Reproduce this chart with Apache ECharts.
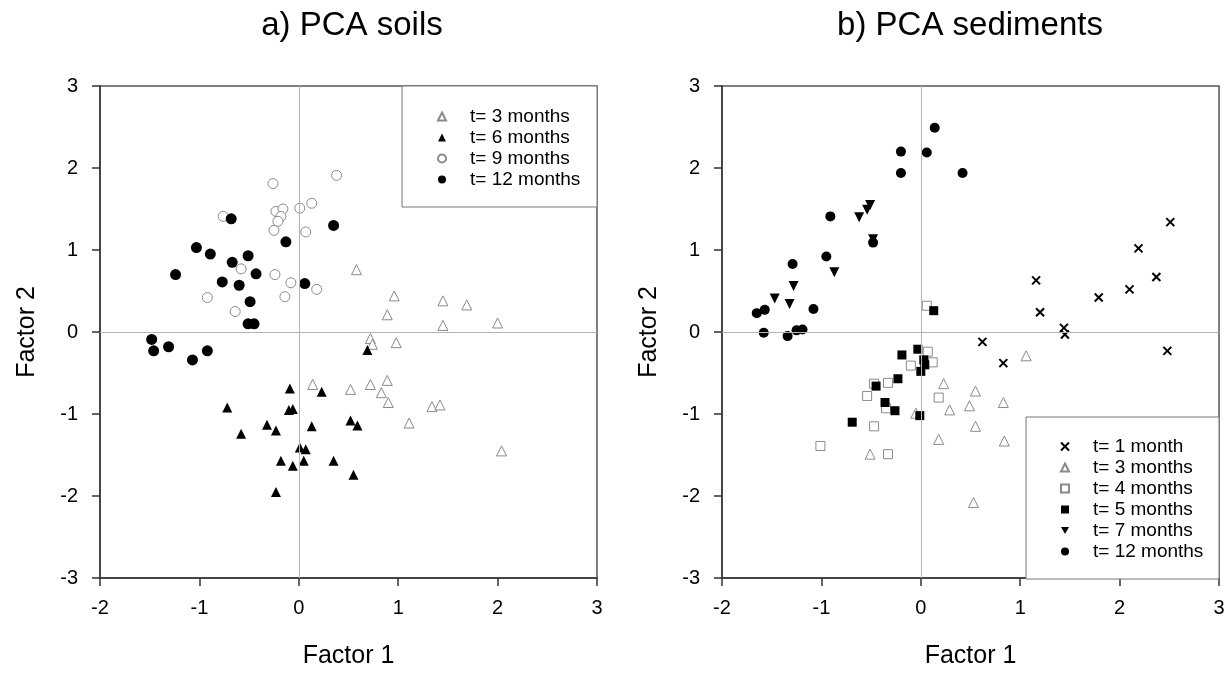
<!DOCTYPE html>
<html>
<head>
<meta charset="utf-8">
<script src="https://cdn.jsdelivr.net/npm/echarts@6/dist/echarts.min.js"></script>
<style>
  html, body { margin: 0; padding: 0; background: #fff; }
  #main { width: 1229px; height: 678px; }
</style>
</head>
<body>
<div id="main"></div>
<script>
// a) PCA soils
const soils3 = [[0.58,0.76],[0.96,0.44],[1.45,0.38],[1.69,0.33],[0.89,0.21],[1.45,0.08],[2.00,0.11],
  [0.72,-0.08],[0.74,-0.15],[0.98,-0.13],[0.89,-0.59],[0.52,-0.70],[0.72,-0.64],[0.83,-0.74],
  [0.90,-0.86],[1.34,-0.91],[1.42,-0.89],[1.11,-1.11],[2.04,-1.45],[0.14,-0.64]];
const soils6 = [[-0.09,-0.69],[0.23,-0.73],[-0.72,-0.92],[-0.10,-0.95],[-0.06,-0.94],[-0.32,-1.13],
  [-0.23,-1.20],[0.13,-1.15],[-0.58,-1.24],[0.01,-1.41],[0.07,-1.43],[-0.18,-1.57],[-0.06,-1.63],
  [0.05,-1.57],[0.35,-1.57],[-0.23,-1.95],[0.69,-0.22],[0.52,-1.08],[0.59,-1.14],[0.55,-1.74]];
const soils9 = [[-0.26,1.81],[0.38,1.91],[-0.23,1.47],[-0.16,1.50],[-0.18,1.41],[-0.21,1.35],
  [0.01,1.51],[0.13,1.57],[-0.76,1.41],[-0.25,1.24],[0.07,1.22],[-0.58,0.77],[-0.24,0.70],
  [-0.08,0.60],[0.18,0.52],[-0.92,0.42],[-0.14,0.43],[-0.64,0.25]];
const soils12 = [[-0.68,1.38],[0.35,1.30],[-0.13,1.10],[-1.03,1.03],[-0.89,0.95],[-0.51,0.93],
  [-0.67,0.85],[-1.24,0.70],[-0.43,0.71],[-0.77,0.61],[-0.60,0.57],[0.06,0.59],[-0.49,0.37],
  [-0.51,0.10],[-0.45,0.10],[-1.48,-0.09],[-1.46,-0.23],[-1.31,-0.18],[-1.07,-0.34],[-0.92,-0.23]];

// b) PCA sediments
const sed1 = [[2.51,1.34],[2.19,1.02],[2.37,0.67],[2.10,0.52],[1.79,0.42],[1.16,0.63],[1.20,0.24],
  [1.44,0.05],[1.45,-0.03],[0.62,-0.12],[0.83,-0.38],[2.48,-0.23]];
const sed3 = [[0.23,-0.63],[0.29,-0.95],[-0.05,-0.99],[0.18,-1.31],[-0.51,-1.49],[0.49,-0.90],
  [1.06,-0.29],[0.55,-0.72],[0.83,-0.86],[0.55,-1.15],[0.84,-1.33],[0.53,-2.08]];
const sed4 = [[0.06,0.32],[0.07,-0.24],[0.12,-0.37],[-0.10,-0.41],[-0.33,-0.62],[-0.47,-0.63],
  [-0.54,-0.78],[0.18,-0.80],[-0.35,-0.93],[-0.47,-1.15],[-1.01,-1.39],[-0.33,-1.49]];
const sed5 = [[0.13,0.26],[-0.03,-0.21],[-0.19,-0.28],[0.03,-0.34],[0.04,-0.40],[0.00,-0.48],
  [-0.23,-0.57],[-0.45,-0.66],[-0.36,-0.86],[-0.26,-0.96],[-0.01,-1.02],[-0.69,-1.10]];
const sed7 = [[-0.51,1.55],[-0.54,1.49],[-0.62,1.40],[-0.48,1.13],[-0.87,0.73],[-1.28,0.56],
  [-1.47,0.41],[-1.32,0.34]];
const sed12 = [[0.14,2.49],[-0.20,2.20],[0.06,2.19],[-0.20,1.94],[0.42,1.94],[-0.91,1.41],
  [-0.48,1.09],[-0.95,0.92],[-1.29,0.83],[-1.08,0.28],[-1.57,0.27],[-1.65,0.23],[-1.58,-0.01],
  [-1.34,-0.05],[-1.25,0.02],[-1.19,0.03]];

const soilNames = ['t= 3 months', 't= 6 months', 't= 9 months', 't= 12 months'];
const sedNames = ['t= 1 month', 't= 3 months', 't= 4 months', 't= 5 months', 't= 7 months', 't= 12 months'];

const FONT = '"Liberation Sans", Arial, sans-serif';
const crossPath = 'path://M0,0L10,10M10,0L0,10';
const downTri = 'path://M0,0L10,0L5,9Z';

const openGrey = { color: '#fff', borderColor: '#8a8a8a', borderWidth: 1, opacity: 1 };
const solid = { color: '#000', opacity: 1 };

const makeAxisX = (idx) => ({
  gridIndex: idx, type: 'value', min: -2, max: 3, interval: 1,
  name: 'Factor 1', nameLocation: 'middle', nameGap: 66,
  nameTextStyle: { fontFamily: FONT, fontSize: 25, color: '#000' },
  axisLine: { onZero: false, lineStyle: { color: '#333', width: 1.5 } },
  axisTick: { length: 8, lineStyle: { color: '#333', width: 1.5 } },
  axisLabel: { fontFamily: FONT, fontSize: 20, color: '#000', margin: 20 },
  splitLine: { show: false }
});
const makeAxisY = (idx) => ({
  gridIndex: idx, type: 'value', min: -3, max: 3, interval: 1,
  name: 'Factor 2', nameLocation: 'middle', nameGap: 60,
  nameTextStyle: { fontFamily: FONT, fontSize: 25, color: '#000' },
  axisLine: { onZero: false, lineStyle: { color: '#333', width: 1.5 } },
  axisTick: { length: 8, lineStyle: { color: '#333', width: 1.5 } },
  axisLabel: { fontFamily: FONT, fontSize: 20, color: '#000', margin: 22 },
  splitLine: { show: false }
});

const zeroLines = (idx) => ({
  type: 'scatter', name: 'zero' + idx, xAxisIndex: idx, yAxisIndex: idx, data: [], z: 1,
  markLine: {
    silent: true, symbol: 'none', label: { show: false },
    lineStyle: { color: '#b4b4b4', width: 1, type: 'solid' },
    data: [{ xAxis: 0 }, { yAxis: 0 }]
  }
});

const pts = (name, idx, data, symbol, size, style) => ({
  type: 'scatter', name: name, xAxisIndex: idx, yAxisIndex: idx, data: data,
  symbol: symbol, symbolSize: size, itemStyle: style, z: 2
});

const legendBase = {
  orient: 'vertical', padding: 0, itemGap: 2, itemWidth: 8, itemHeight: 8,
  textStyle: { fontFamily: FONT, fontSize: 19, color: '#000', lineHeight: 19, padding: [0, 0, 0, 19] },
  selectedMode: false
};

const myChart = echarts.init(document.getElementById('main'));
const option = {
  backgroundColor: '#fff',
  animation: false,
  grid: [
    { left: 100, right: 632, top: 86, bottom: 100, show: true, borderColor: '#555', borderWidth: 1.5 },
    { left: 722, right: 10, top: 86, bottom: 100, show: true, borderColor: '#555', borderWidth: 1.5 }
  ],
  xAxis: [makeAxisX(0), makeAxisX(1)],
  yAxis: [makeAxisY(0), makeAxisY(1)],
  graphic: [
    { type: 'text', x: 352, y: 26, style: { text: 'a) PCA soils', fontFamily: FONT, fontSize: 33, fill: '#000', textAlign: 'center', textVerticalAlign: 'middle' } },
    { type: 'text', x: 970, y: 26, style: { text: 'b) PCA sediments', fontFamily: FONT, fontSize: 33, fill: '#000', textAlign: 'center', textVerticalAlign: 'middle' } },
    { type: 'rect', shape: { x: 402, y: 86, width: 195, height: 121 }, style: { fill: '#fff', stroke: '#777', lineWidth: 1 }, z: 3 },
    { type: 'rect', shape: { x: 1026, y: 417, width: 193, height: 162 }, style: { fill: '#fff', stroke: '#777', lineWidth: 1 }, z: 3 }
  ],
  legend: [
    Object.assign({}, legendBase, { data: soilNames.map(n => ({ name: n })), left: 437, top: 107, z: 4 }),
    Object.assign({}, legendBase, { data: sedNames.map(n => ({ name: n })), left: 1060, top: 437, z: 4 })
  ],
  series: [
    zeroLines(0),
    pts('t= 3 months', 0, soils3, 'triangle', 10, openGrey),
    pts('t= 6 months', 0, soils6, 'triangle', 10, solid),
    pts('t= 9 months', 0, soils9, 'circle', 10, openGrey),
    pts('t= 12 months', 0, soils12, 'circle', 11, solid),
    zeroLines(1),
    pts('t= 1 month', 1, sed1, crossPath, 8, { color: '#000', borderColor: '#000', borderWidth: 2, opacity: 1 }),
    pts('t= 3 months', 1, sed3, 'triangle', 10, openGrey),
    pts('t= 4 months', 1, sed4, 'rect', 9, openGrey),
    pts('t= 5 months', 1, sed5, 'rect', 9, solid),
    pts('t= 7 months', 1, sed7, downTri, 10, solid),
    pts('t= 12 months', 1, sed12, 'circle', 10, solid)
  ]
};
myChart.setOption(option);
</script>
</body>
</html>
